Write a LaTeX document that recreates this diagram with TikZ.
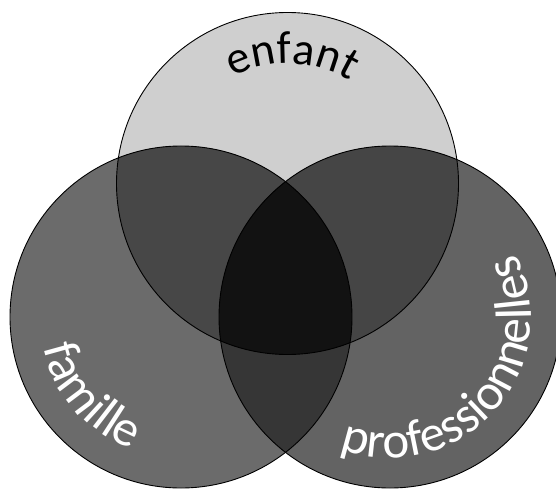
\documentclass[tikz,border=0pt]{standalone}
\usepackage{fontspec}
\setmainfont{Carlito}
\usetikzlibrary{decorations.text}

% shades of the seven regions
\definecolor{topfill}{gray}{0.81}
\definecolor{leftfill}{gray}{0.42}
\definecolor{rightfill}{gray}{0.39}
\definecolor{tlfill}{gray}{0.28}
\definecolor{trfill}{gray}{0.27}
\definecolor{lrfill}{gray}{0.21}
\definecolor{allfill}{gray}{0.07}

\tikzset{
  ring/.style={draw=black, line width=0.9pt},
  label arc/.style={decorate, decoration={text along path, text align=center,
      text={#1}}},
}

\begin{document}
\begin{tikzpicture}[x=1pt,y=1pt]
  \useasboundingbox (0,0) rectangle (556,488);
  \fill[white] (0,0) rectangle (556,488);

  % centres of the three sets
  \coordinate (T) at (287.5,304.5);
  \coordinate (L) at (181,171);
  \coordinate (R) at (390,171);
  \def\rr{171pt}

  % single regions
  \fill[topfill]   (T) circle[radius=\rr];
  \fill[leftfill]  (L) circle[radius=\rr];
  \fill[rightfill] (R) circle[radius=\rr];

  % pairwise overlaps
  \begin{scope}
    \clip (T) circle[radius=\rr];
    \fill[tlfill] (L) circle[radius=\rr];
    \fill[trfill] (R) circle[radius=\rr];
  \end{scope}
  \begin{scope}
    \clip (L) circle[radius=\rr];
    \clip (R) circle[radius=\rr];
    \fill[lrfill] (L) circle[radius=\rr];
    \clip (T) circle[radius=\rr];
    \fill[allfill] (L) circle[radius=\rr];
  \end{scope}

  % outlines
  \draw[ring] (T) circle[radius=\rr];
  \draw[ring] (L) circle[radius=\rr];
  \draw[ring] (R) circle[radius=\rr];

  % curved labels
  \path[label arc={|\fontsize{46}{50}\selectfont|enfant}]
    ([shift={(150:120pt)}]T) arc[start angle=150, end angle=26, radius=120pt];
  \path[label arc={|\fontsize{51}{55}\selectfont\color{white}|famille}]
    ([shift={(160:141pt)}]L) arc[start angle=160, end angle=282, radius=141pt];
  \path[label arc={|\fontsize{51}{55}\selectfont\color{white}|professionnelles}]
    ([shift={(228:141pt)}]R) arc[start angle=228, end angle=408, radius=141pt];
\end{tikzpicture}
\end{document}
